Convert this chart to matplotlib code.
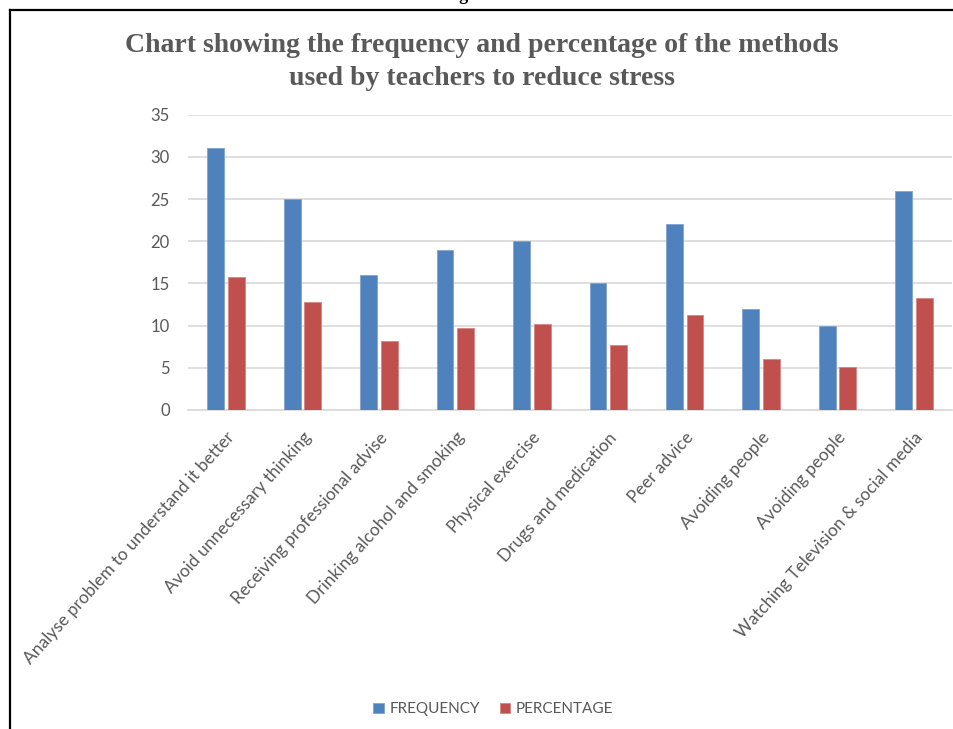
import matplotlib.pyplot as plt
import numpy as np
from matplotlib.lines import Line2D

methods = ['Analyse problem to understand it better', 'Avoid unnecessary thinking',
           'Receiving professional advise', 'Drinking alcohol and smoking',
           'Physical exercise', 'Drugs and medication', 'Peer advice',
           'Avoiding people', 'Avoiding people', 'Watching Television & social media']
frequency = [31, 25, 16, 19, 20, 15, 22, 12, 10, 26]
percentage = [15.8, 12.8, 8.2, 9.7, 10.2, 7.7, 11.2, 6.1, 5.1, 13.3]

blue = '#4F81BD'
red = '#C0504D'
grey = '#595959'

fig = plt.figure(figsize=(9.54, 7.29), dpi=100)
ax = fig.add_axes([0.197, 0.4376, 0.801, 0.4051])

x = np.arange(len(methods))
w = 0.22
ax.bar(x - 0.135, frequency, w, color=blue, edgecolor='#7FA3D0', linewidth=0.6, label='FREQUENCY', zorder=3)
ax.bar(x + 0.135, percentage, w, color=red, edgecolor='#D88482', linewidth=0.6, label='PERCENTAGE', zorder=3)

ax.set_xlim(-0.5, len(methods) - 0.5)
ax.set_ylim(0, 35)
ax.set_yticks(range(0, 36, 5))
ax.grid(axis='y', color='#D9D9D9', linewidth=1.2, zorder=0)
for s in ['top', 'right', 'left']:
    ax.spines[s].set_visible(False)
ax.spines['bottom'].set_color('#D9D9D9')
ax.spines['bottom'].set_linewidth(1.2)
ax.tick_params(length=0, colors=grey, labelsize=12)
ax.tick_params(axis='y', pad=13)
ax.set_xticks(x)
ax.set_xticklabels(methods, rotation=48, ha='right', va='top', rotation_mode='anchor',
                   fontfamily='Lato', fontsize=12.5, color=grey)
ax.tick_params(axis='x', pad=14)
for t in ax.get_yticklabels():
    t.set_fontfamily('Lato')

fig.text(0.505, 0.915, 'Chart showing the frequency and percentage of the methods\nused by teachers to reduce stress',
         ha='center', va='center', fontsize=20, fontweight='bold', family='Liberation Serif',
         color=grey, linespacing=1.45)

fig.text(0.5, 1.006, 'Figure 1.', ha='center', va='center', fontsize=13, fontweight='bold',
         family='Liberation Serif', color='black')

# frame round the chart
fig.add_artist(Line2D([0.0105, 0.0105], [0.0, 0.986], color='black', linewidth=1.6, transform=fig.transFigure))
fig.add_artist(Line2D([0.0105, 1.0], [0.986, 0.986], color='black', linewidth=1.6, transform=fig.transFigure))

fig.legend(loc='center', bbox_to_anchor=(0.517, 0.027), ncol=2, frameon=False,
           handlelength=0.7, handleheight=0.7, handletextpad=0.35, columnspacing=1.3,
           prop={'family': 'Lato', 'size': 11}, labelcolor=grey)

fig.savefig('out.png', dpi=100)
